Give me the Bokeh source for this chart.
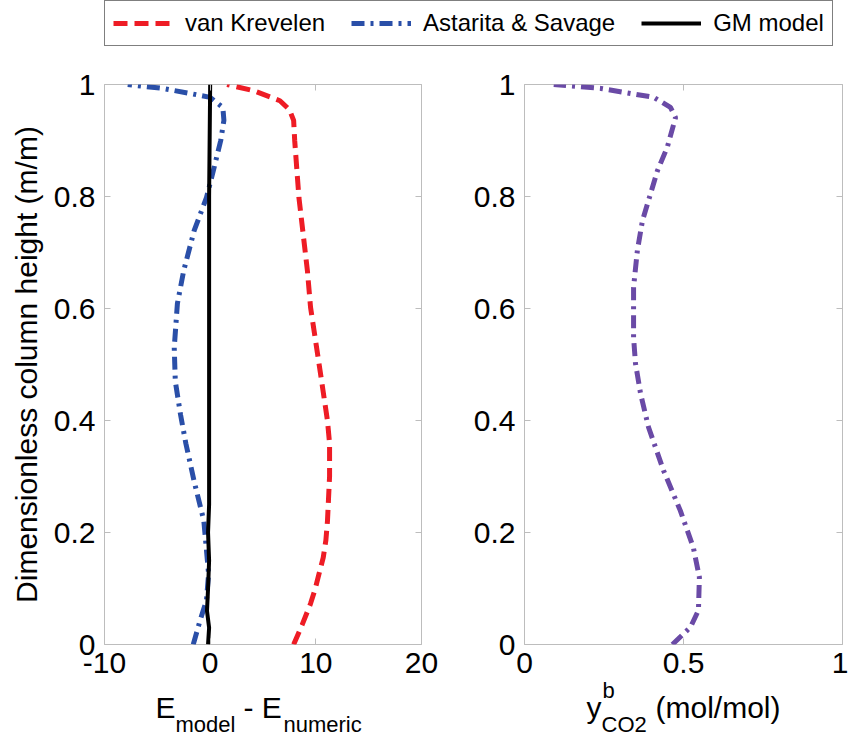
from bokeh.plotting import figure
from bokeh.models import (Legend, LegendItem, LinearAxis, FixedTicker,
                          NumeralTickFormatter, Label, Range1d)
from bokeh.layouts import column, row
from bokeh.embed import file_html
from bokeh.resources import INLINE

FONT = "Liberation Sans"
GREY = "#bdbdbd"
RED = "#ee1c25"
BLUE = "#2a4fa8"
BLACK = "#000000"
PURPLE = "#6a4aa6"

# ---------------- data ----------------
# van Krevelen: E_model - E_numeric vs dimensionless height
vk_e = [7.9, 8.7, 9.5, 9.95, 10.3, 10.7, 10.95, 11.1, 11.2, 11.3, 11.3, 11.1,
        10.4, 9.5, 9.2, 8.4, 8.0, 7.9, 7.5, 6.6, 4.1, 1.6]
vk_h = [0.0, 0.035, 0.073, 0.10, 0.126, 0.155, 0.186, 0.22, 0.26, 0.30, 0.359,
        0.40, 0.489, 0.602, 0.668, 0.798, 0.90, 0.936, 0.955, 0.971, 0.989, 1.0]

# Astarita & Savage
as_e = [-1.6, -1.0, -0.35, -0.15, -0.6, -1.5, -2.3, -2.8, -3.3, -3.4, -3.1,
        -2.5, -1.5, -0.35, 0.3, 1.0, 1.3, 1.2, 0.0, -1.9, -4.5, -7.8]
as_h = [0.0, 0.04, 0.079, 0.126, 0.221, 0.29, 0.359, 0.41, 0.47, 0.53, 0.609,
        0.668, 0.74, 0.798, 0.846, 0.90, 0.936, 0.959, 0.977, 0.984, 0.993, 1.0]

# GM model
gm_e = [-0.2, -0.1, -0.3, -0.2, -0.1, -0.2, -0.1, -0.1, -0.1, 0.0]
gm_h = [0.0, 0.03, 0.06, 0.10, 0.15, 0.20, 0.25, 0.50, 0.80, 1.0]

# bulk CO2 mole fraction
y_co2 = [0.465, 0.522, 0.547, 0.55, 0.531, 0.49, 0.437, 0.39, 0.365, 0.349,
         0.343, 0.343, 0.355, 0.371, 0.418, 0.449, 0.475, 0.459, 0.407, 0.24,
         0.092]
y_h = [0.0, 0.031, 0.061, 0.12, 0.173, 0.239, 0.311, 0.388, 0.448, 0.502,
       0.548, 0.638, 0.704, 0.757, 0.846, 0.888, 0.941, 0.959, 0.977, 0.993,
       1.0]

left_xticks = [-10, 0, 10, 20]
right_xticks = [0, 0.5, 1]
yticks = [0, 0.2, 0.4, 0.6, 0.8, 1]

legend_labels = ["van Krevelen", "Astarita & Savage", "GM model"]

VK_STYLE = dict(line_color=RED, line_width=5, line_dash="14 7")
AS_STYLE = dict(line_color=BLUE, line_width=5, line_dash="13 6 3 6")
GM_STYLE = dict(line_color=BLACK, line_width=4)
Y_STYLE = dict(line_color=PURPLE, line_width=5, line_dash="13 6 3 6")


def style_axes(p, xticks):
    fmt = NumeralTickFormatter(format="0.[0]")
    bottom = p.below[0]
    leftax = p.left[0]
    bottom.ticker = FixedTicker(ticks=xticks)
    leftax.ticker = FixedTicker(ticks=yticks)
    bottom.formatter = fmt
    leftax.formatter = fmt
    top = LinearAxis(ticker=FixedTicker(ticks=xticks))
    right = LinearAxis(ticker=FixedTicker(ticks=yticks))
    p.add_layout(top, "above")
    p.add_layout(right, "right")
    for ax in (top, right):
        ax.major_label_text_font_size = "0px"
        ax.major_label_text_alpha = 0
        ax.major_label_standoff = 0
    for ax in (bottom, leftax, top, right):
        ax.axis_line_color = None
        ax.major_tick_line_color = GREY
        ax.major_tick_in = 6
        ax.major_tick_out = 0
        ax.minor_tick_line_color = None
        ax.major_label_text_font = FONT
        ax.major_label_text_color = "black"
    for ax in (bottom, leftax):
        ax.major_label_text_font_size = "30px"
    bottom.major_label_standoff = 8
    leftax.major_label_standoff = 9
    p.xgrid.visible = False
    p.ygrid.visible = False
    p.outline_line_color = GREY
    p.outline_line_width = 1
    p.background_fill_color = "white"
    p.border_fill_color = "white"


def make_strip(width, bl, br):
    s = figure(width=width, height=74, output_backend="svg", toolbar_location=None,
               x_range=Range1d(0, 1), y_range=Range1d(0, 1),
               x_axis_location=None, y_axis_location=None,
               min_border_left=bl, min_border_right=br,
               min_border_top=0, min_border_bottom=0, margin=(-20, 0, 0, 0))
    s.xgrid.visible = False
    s.ygrid.visible = False
    s.outline_line_color = None
    s.background_fill_color = None
    s.border_fill_color = None
    return s


def add_text(p, txt, x, y, size):
    p.add_layout(Label(x=x, y=y, x_units="screen", y_units="screen", text=txt,
                       text_font=FONT, text_font_size=size,
                       text_baseline="alphabetic", text_align="left",
                       text_color="black"))


# ---------------- left panel ----------------
left = figure(width=468, height=636, output_backend="svg", toolbar_location=None,
              x_range=Range1d(-10, 20), y_range=Range1d(0, 1),
              min_border_left=104, min_border_right=47, min_border_top=32,
              min_border_bottom=44)
style_axes(left, left_xticks)
left.left[0].axis_label = "Dimensionless column height (m/m)"
left.left[0].axis_label_text_font = FONT
left.left[0].axis_label_text_font_size = "30px"
left.left[0].axis_label_text_font_style = "normal"
left.left[0].axis_label_text_color = "black"
left.left[0].axis_label_standoff = 8

left.line(vk_e, vk_h, **VK_STYLE)
left.line(as_e, as_h, **AS_STYLE)
left.line(gm_e, gm_h, **GM_STYLE)

lstrip = make_strip(468, 104, 47)
add_text(lstrip, "E", 51, 35, "30px")
add_text(lstrip, "model", 71, 18, "22px")
add_text(lstrip, "- E", 139, 35, "30px")
add_text(lstrip, "numeric", 179, 18, "22px")

# ---------------- right panel ----------------
right = figure(width=380, height=636, output_backend="svg", toolbar_location=None,
               x_range=Range1d(0, 1), y_range=Range1d(0, 1),
               min_border_left=56, min_border_right=6, min_border_top=32,
               min_border_bottom=44)
style_axes(right, right_xticks)
right.line(y_co2, y_h, **Y_STYLE)

rstrip = make_strip(380, 56, 6)
add_text(rstrip, "y", 62, 35, "30px")
add_text(rstrip, "b", 78, 52, "22px")
add_text(rstrip, "CO2", 77, 18, "22px")
add_text(rstrip, "(mol/mol)", 131, 35, "30px")

# ---------------- legend strip ----------------
leg = figure(width=848, height=52, output_backend="svg", toolbar_location=None,
             x_range=Range1d(0, 1), y_range=Range1d(0, 1),
             x_axis_location=None, y_axis_location=None,
             min_border_left=0, min_border_right=0,
             min_border_top=0, min_border_bottom=0)
leg.xgrid.visible = False
leg.ygrid.visible = False
leg.outline_line_color = None
r1 = leg.line([5, 6], [5, 6], **VK_STYLE)
r2 = leg.line([5, 6], [5, 6], **AS_STYLE)
r3 = leg.line([5, 6], [5, 6], **GM_STYLE)
legend = Legend(items=[LegendItem(label=legend_labels[0], renderers=[r1]),
                       LegendItem(label=legend_labels[1], renderers=[r2]),
                       LegendItem(label=legend_labels[2], renderers=[r3])],
                orientation="horizontal", location=(104, 6),
                label_text_font=FONT, label_text_font_size="24px",
                label_text_color="black",
                glyph_width=60, glyph_height=24, label_height=24,
                label_standoff=12, spacing=26, padding=8, margin=0,
                border_line_color="black", border_line_width=1.5,
                background_fill_alpha=1.0)
leg.add_layout(legend, "center")

layout = column(leg, row(column(left, lstrip), column(right, rstrip)))

open("out.html", "w").write(file_html(layout, INLINE))
